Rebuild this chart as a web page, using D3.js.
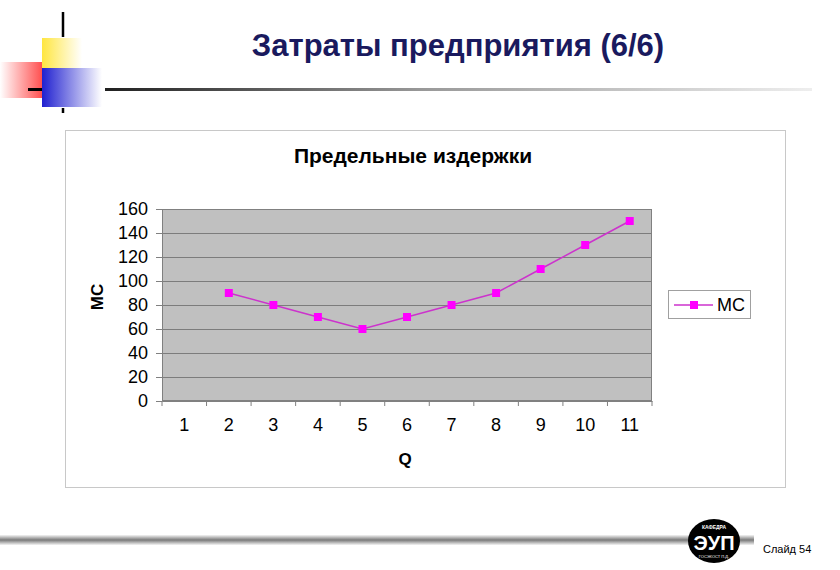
<!DOCTYPE html>
<html><head><meta charset="utf-8">
<script src="https://cdn.jsdelivr.net/npm/d3@7"></script>
<style>body{margin:0;background:#fff;}svg{display:block;font-family:Arial,"Liberation Sans",sans-serif;}</style>
</head><body>
<svg id="c" width="840" height="570"></svg>
<script>
const categories = ["1","2","3","4","5","6","7","8","9","10","11"];
const mcValues = [null,90,80,70,60,70,80,90,110,130,150];
const yTicks = [0,20,40,60,80,100,120,140,160];
const slideTitle = "Затраты предприятия (6/6)";
const chartTitle = "Предельные издержки";
const seriesName = "MC";
const xLabel = "Q";
const yLabel = "MC";
const footer = "Слайд 54";

const svg = d3.select("#c");
const defs = svg.append("defs");
function lg(id, stops, x2, y2){
  const g = defs.append("linearGradient").attr("id",id).attr("x1",0).attr("y1",0).attr("x2",x2).attr("y2",y2);
  stops.forEach(s=>g.append("stop").attr("offset",s[0]).attr("stop-color",s[1]));
}
lg("gY",[[0,"#ffe640"],[1,"#ffffff"]],1,0);
lg("gR",[[0,"#ffffff"],[1,"#ff5050"]],1,0);
lg("gB",[[0,"#2020d0"],[1,"#ffffff"]],1,0);
lg("gH",[[0,"#202020"],[0.45,"#999"],[1,"#eeeeee"]],1,0);
lg("gF",[[0,"#f4f4f4"],[0.5,"#7a7a7a"],[1,"#f4f4f4"]],0,1);

// decorations
svg.append("rect").attr("x",0).attr("y",62).attr("width",42).attr("height",36).attr("fill","url(#gR)");
svg.append("rect").attr("x",42).attr("y",38).attr("width",40).attr("height",30).attr("fill","url(#gY)");
svg.append("rect").attr("x",42).attr("y",68).attr("width",60).attr("height",39).attr("fill","url(#gB)");
svg.append("line").attr("x1",63).attr("x2",63).attr("y1",12).attr("y2",37).attr("stroke","#000").attr("stroke-width",2.5);
svg.append("line").attr("x1",63).attr("x2",63).attr("y1",108).attr("y2",113).attr("stroke","#000").attr("stroke-width",2.5);
svg.append("line").attr("x1",28).attr("x2",42).attr("y1",89.5).attr("y2",89.5).attr("stroke","#000").attr("stroke-width",3);
svg.append("rect").attr("x",105).attr("y",88).attr("width",707).attr("height",3).attr("fill","url(#gH)");

svg.append("text").attr("x",458).attr("y",56).attr("text-anchor","middle")
  .attr("font-size",31).attr("font-weight","bold").attr("fill","#1a1a5e").text(slideTitle);

// footer
svg.append("rect").attr("x",0).attr("y",535).attr("width",692).attr("height",10).attr("fill","url(#gF)");
svg.append("rect").attr("x",738).attr("y",535).attr("width",16).attr("height",10).attr("fill","url(#gF)");
svg.append("ellipse").attr("cx",714).attr("cy",541).attr("rx",26).attr("ry",22).attr("fill","#000");
svg.append("text").attr("x",714).attr("y",550).attr("text-anchor","middle").attr("font-size",20).attr("font-weight","bold").attr("fill","#fff").text("ЭУП");
svg.append("text").attr("x",714).attr("y",529).attr("text-anchor","middle").attr("font-size",5).attr("font-weight","bold").attr("fill","#fff").text("КАФЕДРА");
svg.append("text").attr("x",714).attr("y",558).attr("text-anchor","middle").attr("font-size",4).attr("fill","#fff").text("ГОСЭКОСТ П.Д.");
svg.append("text").attr("x",763).attr("y",553).attr("font-size",11).attr("fill","#000").text(footer);

// chart frame
svg.append("rect").attr("x",65.5).attr("y",130.5).attr("width",720).attr("height",357).attr("fill","#fff").attr("stroke","#c8c8c8");
svg.append("text").attr("x",413).attr("y",163).attr("text-anchor","middle").attr("font-size",21).attr("font-weight","bold").text(chartTitle);

const L=162, R=652, T=209, B=401;
const x = d3.scaleBand().domain(categories).range([L,R]);
const y = d3.scaleLinear().domain([0,160]).range([B,T]);

svg.append("rect").attr("x",L).attr("y",T).attr("width",R-L).attr("height",B-T).attr("fill","#c0c0c0");
svg.append("g").selectAll("line").data(yTicks.filter(d=>d>0)).join("line")
  .attr("x1",L).attr("x2",R).attr("y1",d=>Math.round(y(d))+0.5).attr("y2",d=>Math.round(y(d))+0.5)
  .attr("stroke","#7c7c7c").attr("stroke-width",1);
svg.append("rect").attr("x",L+0.5).attr("y",T+0.5).attr("width",R-L-1).attr("height",B-T-1).attr("fill","none").attr("stroke","#808080");

// y axis
const ya = svg.append("g").attr("transform",`translate(${L},0)`)
  .call(d3.axisLeft(y).tickValues(yTicks).tickSize(6).tickPadding(8));
ya.select(".domain").attr("stroke","#808080");
ya.selectAll(".tick line").attr("stroke","#808080");
ya.selectAll("text").attr("font-size",18).attr("font-family","Arial,'Liberation Sans',sans-serif").attr("fill","#000");

// x axis
const xa = svg.append("g").attr("transform",`translate(0,${B})`)
  .call(d3.axisBottom(x).tickSize(0).tickPadding(17));
xa.select(".domain").attr("stroke","#808080");
xa.selectAll("text").attr("font-size",18).attr("font-family","Arial,'Liberation Sans',sans-serif").attr("fill","#000");
svg.append("g").selectAll("line").data(categories.map((c,i)=>i).concat([categories.length])).join("line")
  .attr("x1",i=>L+i*x.bandwidth()).attr("x2",i=>L+i*x.bandwidth())
  .attr("y1",B).attr("y2",B+5).attr("stroke","#808080");

svg.append("text").attr("x",405).attr("y",465).attr("text-anchor","middle").attr("font-size",17).attr("font-weight","bold").text(xLabel);
svg.append("text").attr("transform","translate(103,297) rotate(-90)").attr("text-anchor","middle").attr("font-size",17).attr("font-weight","bold").text(yLabel);

// series
const pts = categories.map((c,i)=>({c,v:mcValues[i]})).filter(d=>d.v!=null);
const line = d3.line().x(d=>x(d.c)+x.bandwidth()/2).y(d=>y(d.v));
svg.append("path").datum(pts).attr("d",line).attr("fill","none").attr("stroke","#cc33cc").attr("stroke-width",1.5);
svg.append("g").selectAll("rect").data(pts).join("rect")
  .attr("x",d=>x(d.c)+x.bandwidth()/2-4).attr("y",d=>y(d.v)-4).attr("width",8).attr("height",8).attr("fill","#ff00ff");

// legend
svg.append("rect").attr("x",668.5).attr("y",290.5).attr("width",82).attr("height",28).attr("fill","#fff").attr("stroke","#a0a0a0");
svg.append("line").attr("x1",674).attr("x2",713).attr("y1",305).attr("y2",305).attr("stroke","#cc33cc").attr("stroke-width",1.5);
svg.append("rect").attr("x",690).attr("y",301).attr("width",8).attr("height",8).attr("fill","#ff00ff");
svg.append("text").attr("x",717).attr("y",311).attr("font-size",18).text(seriesName);
</script>
</body></html>
